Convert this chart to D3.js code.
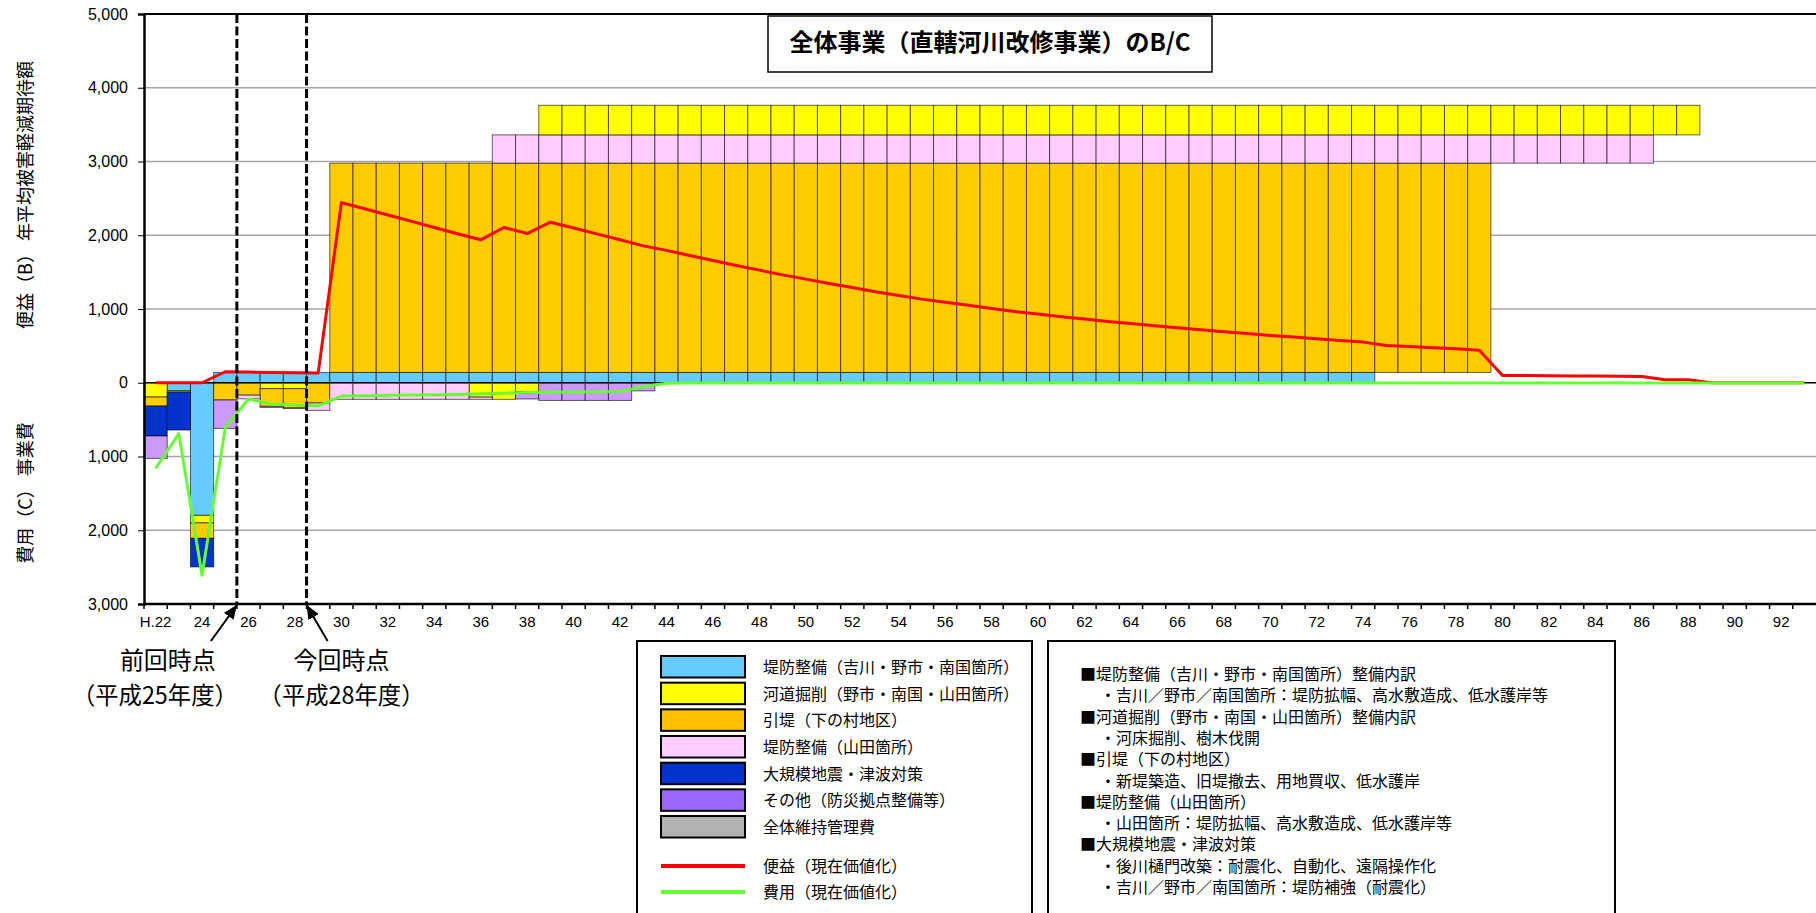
<!DOCTYPE html>
<html><head><meta charset="utf-8">
<script src="https://cdn.jsdelivr.net/npm/d3@7"></script>
<style>
html,body{margin:0;padding:0;background:#fff;}
svg{display:block;}
text{font-family:"Liberation Sans",Arial,sans-serif;}
.jp{font-family:"Noto Sans CJK JP","Noto Sans CJK SC",sans-serif;}
</style></head><body>
<svg id="chart" width="1816" height="913"></svg>
<script>
// ---------- DATA ----------
const years = [22,23,24,25,26,27,28,29,30,31,32,33,34,35,36,37,38,39,40,41,42,43,44,45,46,47,48,49,50,51,52,53,54,55,56,57,58,59,60,61,62,63,64,65,66,67,68,69,70,71,72,73,74,75,76,77,78,79,80,81,82,83,84,85,86,87,88,89,90,91,92,93];
const labelYears = [22,24,26,28,30,32,34,36,38,40,42,44,46,48,50,52,54,56,58,60,62,64,66,68,70,72,74,76,78,80,82,84,86,88,90,92];
const tickLabels = ["H.22","24","26","28","30","32","34","36","38","40","42","44","46","48","50","52","54","56","58","60","62","64","66","68","70","72","74","76","78","80","82","84","86","88","90","92"];
const yTicks = [-3000,-2000,-1000,0,1000,2000,3000,4000,5000];

// Benefit (B) bars by component
const benefitLevee = [0,0,0,140,140,140,140,140,140,140, 140,140,140,140,140,140,140,140,140,140, 140,140,140,140,140,140,140,140,140,140, 140,140,140,140,140,140,140,140,140,140, 140,140,140,140,140,140,140,140,140,140, 140,140,140,0,0,0,0,0,0,0, 0,0,0,0,0,0,0,0,0,0, 0,0];
const benefitDredge = [0,0,0,0,0,0,0,0,0,0, 0,0,0,0,0,0,0,401,401,401, 401,401,401,401,401,401,401,401,401,401, 401,401,401,401,401,401,401,401,401,401, 401,401,401,401,401,401,401,401,401,401, 401,401,401,401,401,401,401,401,401,401, 401,401,401,401,401,401,401,0,0,0, 0,0];
const benefitRetreat = [0,0,0,0,0,0,0,0,2838,2838, 2838,2838,2838,2838,2838,2838,2838,2838,2838,2838, 2838,2838,2838,2838,2838,2838,2838,2838,2838,2838, 2838,2838,2838,2838,2838,2838,2838,2838,2838,2838, 2838,2838,2838,2838,2838,2838,2838,2838,2838,2838, 2838,2838,2838,2838,2838,2838,2838,2838,0,0, 0,0,0,0,0,0,0,0,0,0, 0,0];
const benefitYamada = [0,0,0,0,0,0,0,0,0,0, 0,0,0,0,0,383,383,383,383,383, 383,383,383,383,383,383,383,383,383,383, 383,383,383,383,383,383,383,383,383,383, 383,383,383,383,383,383,383,383,383,383, 383,383,383,383,383,383,383,383,383,383, 383,383,383,383,383,0,0,0,0,0, 0,0];

// Cost (C) bars by component
const costLevee   = [0,108,1798,0,0,0,0,0,0,0, 0,0,0,0,0,0,0,0,0,0, 0,0,0,0,0,0,0,0,0,0, 0,0,0,0,0,0,0,0,0,0, 0,0,0,0,0,0,0,0,0,0, 0,0,0,0,0,0,0,0,0,0, 0,0,0,0,0,0,0,0,0,0, 0,0];
const costDredge  = [194,18,103,0,0,80,80,0,0,0, 0,0,0,0,195,225,120,0,0,0, 0,0,0,0,0,0,0,0,0,0, 0,0,0,0,0,0,0,0,0,0, 0,0,0,0,0,0,0,0,0,0, 0,0,0,0,0,0,0,0,0,0, 0,0,0,0,0,0,0,0,0,0, 0,0];
const costRetreat = [122,0,209,234,168,240,262,275,0,0, 0,0,0,0,0,0,0,0,0,0, 0,0,0,0,0,0,0,0,0,0, 0,0,0,0,0,0,0,0,0,0, 0,0,0,0,0,0,0,0,0,0, 0,0,0,0,0,0,0,0,0,0, 0,0,0,0,0,0,0,0,0,0, 0,0];
const costYamada  = [0,0,0,0,50,15,8,100,225,225, 225,225,225,225,30,0,0,0,0,0, 0,0,0,0,0,0,0,0,0,0, 0,0,0,0,0,0,0,0,0,0, 0,0,0,0,0,0,0,0,0,0, 0,0,0,0,0,0,0,0,0,0, 0,0,0,0,0,0,0,0,0,0, 0,0];
const costQuake   = [406,515,387,0,0,0,0,0,0,0, 0,0,0,0,0,0,0,0,0,0, 0,0,0,0,0,0,0,0,0,0, 0,0,0,0,0,0,0,0,0,0, 0,0,0,0,0,0,0,0,0,0, 0,0,0,0,0,0,0,0,0,0, 0,0,0,0,0,0,0,0,0,0, 0,0];
const costOther   = [304,0,0,385,0,0,0,0,0,0, 0,0,0,0,0,0,100,240,240,240, 240,110,0,0,0,0,0,0,0,0, 0,0,0,0,0,0,0,0,0,0, 0,0,0,0,0,0,0,0,0,0, 0,0,0,0,0,0,0,0,0,0, 0,0,0,0,0,0,0,0,0,0, 0,0];
const costMaint   = [0,0,0,0,0,0,0,0,0,0, 0,0,0,0,0,0,0,0,0,0, 0,0,0,0,0,0,0,0,0,0, 0,0,0,0,0,0,0,0,0,0, 0,0,0,0,0,0,0,0,0,0, 0,0,0,0,0,0,0,0,0,0, 0,0,0,0,0,0,0,0,0,0, 0,0];

// Present-value lines
const pvBenefit = [0,0,0,149,145,140,136,131,2443,2359, 2274,2191,2106,2021,1938,2105,2023,2177,2099,2019, 1940,1856,1795,1725,1657,1590,1527,1463,1405,1346, 1292,1233,1183,1134,1093,1052,1007,966,931,894, 863,831,804,772,745,718,691,668,641,619, 596,573,551,505,492,474,461,440,99,97, 95,93,91,89,86,41,40,0,0,0, 0,0];
const pvCost = [1160,694,2610,610,220,290,303,316,180,175, 171,167,163,158,150,141,133,128,124,121, 118,55,8,3,3,3,3,3,3,3, 3,3,3,3,3,3,3,3,3,3, 3,3,3,3,3,3,3,3,3,3, 3,3,3,3,3,3,3,3,3,3, 3,3,3,3,3,3,3,3,3,3, 3,3];

const seriesNames = ["堤防整備（吉川・野市・南国箇所）","河道掘削（野市・南国・山田箇所）","引堤（下の村地区）","堤防整備（山田箇所）","大規模地震・津波対策","その他（防災拠点整備等）","全体維持管理費"];
const lineNames = ["便益（現在価値化）","費用（現在価値化）"];
const noteLines = [
  ["h","■堤防整備（吉川・野市・南国箇所）整備内訳"],
  ["s","・吉川／野市／南国箇所：堤防拡幅、高水敷造成、低水護岸等"],
  ["h","■河道掘削（野市・南国・山田箇所）整備内訳"],
  ["s","・河床掘削、樹木伐開"],
  ["h","■引堤（下の村地区）"],
  ["s","・新堤築造、旧堤撤去、用地買収、低水護岸"],
  ["h","■堤防整備（山田箇所）"],
  ["s","・山田箇所：堤防拡幅、高水敷造成、低水護岸等"],
  ["h","■大規模地震・津波対策"],
  ["s","・後川樋門改築：耐震化、自動化、遠隔操作化"],
  ["s","・吉川／野市／南国箇所：堤防補強（耐震化）"]
];
const markers = [
  {year:26, l1:"前回時点", l2:"（平成25年度）"},
  {year:29, l1:"今回時点", l2:"（平成28年度）"}
];
const titleText = "全体事業（直轄河川改修事業）のB/C";

// ---------- STYLE ----------
const barColors = ["#66CCFF","#FFFF00","#FFCC00","#FFCCFF","#0033CC","#CC99FF","#B2B2B2"];
const legendColors = ["#66CCFF","#FFFF00","#FFC000","#FFCCFF","#0033CC","#9966FF","#B2B2B2"];
const lineColors = ["#FF0000","#66FF33"];

// ---------- CHART ----------
const svg = d3.select("#chart");
const L = 144, R = 1816, T = 14, B = 604;
const x = d3.scaleBand().domain(years).range([L, R]).padding(0);
const bw = x.bandwidth();
const y = d3.scaleLinear().domain([-3000, 5000]).range([B, T]);

// grid
svg.append("g").selectAll("line").data(yTicks.filter(v => v !== 0 && v !== 5000 && v !== -3000))
  .join("line").attr("x1", L).attr("x2", R).attr("y1", d => y(d)).attr("y2", d => y(d))
  .attr("stroke", "#A6A6A6").attr("stroke-width", 1.5);

// benefit bars (floating layers, each sitting on the full height of the layers below)
const benefitSeries = [benefitLevee, benefitRetreat, benefitYamada, benefitDredge];
const benefitColorIdx = [0, 2, 3, 1];
let base = 0;
benefitSeries.forEach((vals, si) => {
  const b0 = base;
  const rows = years.map((yr, i) => ({yr, v: vals[i], b0}));
  svg.append("g").selectAll("rect").data(rows.filter(d => d.v > 0)).join("rect")
    .attr("x", d => x(d.yr)).attr("width", bw)
    .attr("y", d => y(d.b0 + d.v)).attr("height", d => y(d.b0) - y(d.b0 + d.v))
    .attr("fill", barColors[benefitColorIdx[si]])
    .attr("stroke", "#000").attr("stroke-opacity", 0.6).attr("stroke-width", 1);
  base += d3.max(vals);
});

// cost bars (stacked downward)
const costKeys = ["levee","dredge","retreat","yamada","quake","other","maint"];
const costArrays = [costLevee, costDredge, costRetreat, costYamada, costQuake, costOther, costMaint];
const costRows = years.map((yr, i) => {
  const o = {yr};
  costKeys.forEach((k, j) => o[k] = costArrays[j][i]);
  return o;
});
const stacked = d3.stack().keys(costKeys)(costRows);
stacked.forEach((layer, j) => {
  svg.append("g").selectAll("rect").data(layer.filter(d => d[1] - d[0] > 0)).join("rect")
    .attr("x", d => x(d.data.yr)).attr("width", bw)
    .attr("y", d => y(-d[0])).attr("height", d => y(-d[1]) - y(-d[0]))
    .attr("fill", barColors[j])
    .attr("stroke", "#000").attr("stroke-opacity", 0.6).attr("stroke-width", 1);
});

// zero line
svg.append("line").attr("x1", L).attr("x2", R).attr("y1", y(0)).attr("y2", y(0))
  .attr("stroke", "#000").attr("stroke-width", 1.5);

// PV lines
const lineB = d3.line().x((d, i) => x(years[i]) + bw / 2).y(d => y(d));
const lineC = d3.line().x((d, i) => x(years[i]) + bw / 2).y(d => y(-d));
svg.append("path").attr("d", lineB(pvBenefit)).attr("fill", "none")
  .attr("stroke", lineColors[0]).attr("stroke-width", 3).attr("stroke-linejoin", "round");
svg.append("path").attr("d", lineC(pvCost)).attr("fill", "none")
  .attr("stroke", lineColors[1]).attr("stroke-width", 3).attr("stroke-linejoin", "round");

// frame lines
svg.append("line").attr("x1", L).attr("x2", R).attr("y1", T).attr("y2", T).attr("stroke", "#000").attr("stroke-width", 2);

// y axis
const yAxis = svg.append("g").attr("transform", `translate(${L},0)`)
  .call(d3.axisLeft(y).tickValues(yTicks).tickSize(6).tickPadding(10)
    .tickFormat(d => d3.format(",")(Math.abs(d))));
yAxis.select(".domain").attr("stroke-width", 2.5);
yAxis.selectAll("text").attr("font-size", 16).attr("fill", "#000")
  .attr("font-family", "'Liberation Sans', Arial, sans-serif");

// x axis (labels at centres, ticks at boundaries)
const xAxis = svg.append("g").attr("transform", `translate(0,${B})`)
  .call(d3.axisBottom(x).tickValues(labelYears).tickSize(0).tickPadding(12)
    .tickFormat((d, i) => tickLabels[i]));
xAxis.select(".domain").remove();
xAxis.selectAll("text").attr("font-size", 15).attr("fill", "#000")
  .attr("font-family", "'Liberation Sans', Arial, sans-serif");
svg.append("g").selectAll("line").data(years).join("line")
  .attr("x1", d => x(d)).attr("x2", d => x(d)).attr("y1", B).attr("y2", B + 5)
  .attr("stroke", "#000").attr("stroke-width", 1.5);
svg.append("line").attr("x1", L).attr("x2", R).attr("y1", B).attr("y2", B).attr("stroke", "#000").attr("stroke-width", 2.5);

// axis titles
svg.append("text").attr("class", "jp").attr("transform", "translate(24,195) rotate(-90)")
  .attr("text-anchor", "middle").attr("dominant-baseline", "central").attr("font-size", 18)
  .text("便益（B） 年平均被害軽減期待額");
svg.append("text").attr("class", "jp").attr("transform", "translate(24,493) rotate(-90)")
  .attr("text-anchor", "middle").attr("dominant-baseline", "central").attr("font-size", 18)
  .text("費用（C） 事業費");

// title box
svg.append("rect").attr("x", 768).attr("y", 16).attr("width", 444).attr("height", 56)
  .attr("fill", "#fff").attr("stroke", "#000").attr("stroke-width", 1.5);
svg.append("text").attr("class", "jp").attr("x", 990).attr("y", 51).attr("text-anchor", "middle")
  .attr("font-size", 24).attr("font-weight", "bold").text(titleText);

// markers (dashed lines + arrows + labels)
const defs = svg.append("defs");
defs.append("marker").attr("id", "ah").attr("viewBox", "0 0 14 12").attr("refX", 14).attr("refY", 6)
  .attr("markerWidth", 14).attr("markerHeight", 12).attr("markerUnits", "userSpaceOnUse")
  .attr("orient", "auto").append("path").attr("d", "M0,0 L14,6 L0,12 Z").attr("fill", "#000");
markers.forEach((m, i) => {
  const mx = x(m.year);
  svg.append("line").attr("x1", mx).attr("x2", mx).attr("y1", T).attr("y2", B)
    .attr("stroke", "#000").attr("stroke-width", 3).attr("stroke-dasharray", "9,3.5");
  const sx = i === 0 ? mx - 26 : mx + 21;
  svg.append("line").attr("x1", sx).attr("y1", 641).attr("x2", mx).attr("y2", B + 1)
    .attr("stroke", "#000").attr("stroke-width", 2).attr("marker-end", "url(#ah)");
  const c1 = i === 0 ? mx - 69 : mx + 35;
  const c2 = i === 0 ? mx - 82 : mx + 35;
  svg.append("text").attr("class", "jp").attr("text-anchor", "middle").attr("font-size", 24)
    .attr("x", c1).attr("y", 669).text(m.l1);
  svg.append("text").attr("class", "jp").attr("text-anchor", "middle").attr("font-size", 24)
    .attr("x", c2).attr("y", 704).attr("textLength", 166)
    .attr("lengthAdjust", "spacingAndGlyphs").text(m.l2);
});

// legend box (left)
svg.append("rect").attr("x", 637).attr("y", 641).attr("width", 395).attr("height", 300)
  .attr("fill", "#fff").attr("stroke", "#000").attr("stroke-width", 2);
const lg = svg.append("g");
seriesNames.forEach((name, i) => {
  const yy = 656 + i * 26.67;
  lg.append("rect").attr("x", 661).attr("y", yy).attr("width", 84).attr("height", 21.5)
    .attr("fill", legendColors[i]).attr("stroke", "#000").attr("stroke-width", 2);
  lg.append("text").attr("class", "jp").attr("x", 763).attr("y", yy + 17).attr("font-size", 16).text(name);
});
lineNames.forEach((name, i) => {
  const yy = 866 + i * 26;
  lg.append("line").attr("x1", 661).attr("x2", 745).attr("y1", yy).attr("y2", yy)
    .attr("stroke", lineColors[i]).attr("stroke-width", 4);
  lg.append("text").attr("class", "jp").attr("x", 763).attr("y", yy + 6).attr("font-size", 16).text(name);
});

// notes box (right)
svg.append("rect").attr("x", 1048).attr("y", 641).attr("width", 567).attr("height", 300)
  .attr("fill", "#fff").attr("stroke", "#000").attr("stroke-width", 2);
noteLines.forEach((ln, i) => {
  svg.append("text").attr("class", "jp").attr("x", ln[0] === "h" ? 1080 : 1100)
    .attr("y", 680 + i * 21.3).attr("font-size", 16).text(ln[1]);
});
</script>
</body></html>
